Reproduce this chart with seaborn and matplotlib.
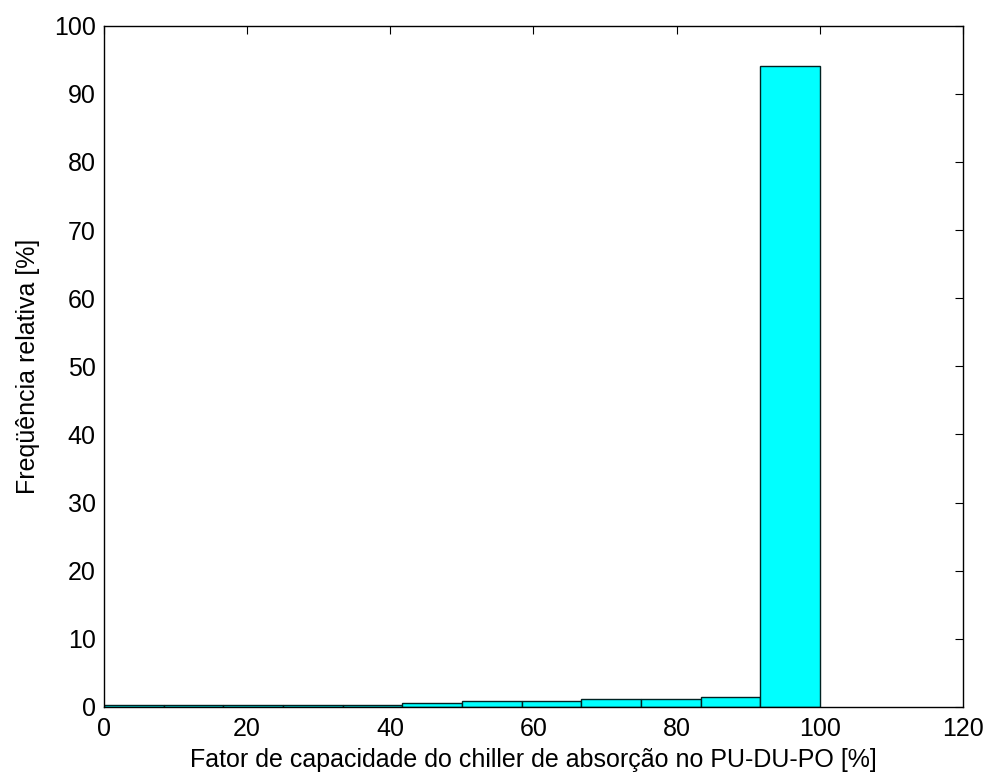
import matplotlib
matplotlib.use('Agg')
import matplotlib.pyplot as plt
import numpy as np
import pandas as pd
import seaborn as sns

# bin edges (12 bins between 0 and 100) and relative frequency in each bin [%]
bin_edges = list(np.linspace(0, 100, 13))
freq = [0.3, 0.3, 0.3, 0.3, 0.3, 0.6, 0.85, 0.85, 1.1, 1.1, 1.4, 94.1]
x_ticks = [0, 20, 40, 60, 80, 100, 120]
y_ticks = [0, 10, 20, 30, 40, 50, 60, 70, 80, 90, 100]

sns.set_style('white')
plt.rcParams['font.family'] = ['Liberation Sans', 'DejaVu Sans']
plt.rcParams['font.size'] = 18

fig = plt.figure(figsize=(9.97, 7.8), dpi=100)
ax = fig.add_axes([0.1043, 0.0936, 0.8616, 0.8734])

centers = [(a + b) / 2 for a, b in zip(bin_edges[:-1], bin_edges[1:])]
df = pd.DataFrame({'centro': centers, 'freq': freq})
sns.histplot(data=df, x='centro', weights='freq', bins=bin_edges, stat='count',
             color='#00ffff', alpha=1, edgecolor='#002222', linewidth=1, ax=ax)

ax.set_xlim(0, 120)
ax.set_ylim(0, 100)
ax.set_xticks(x_ticks)
ax.set_yticks(y_ticks)
ax.tick_params(direction='in', length=6, width=0.8, top=True, right=True,
               labelsize=18, colors='black')
ax.tick_params(axis='x', pad=7)
ax.tick_params(axis='y', pad=6)
for s in ax.spines.values():
    s.set_visible(True)
    s.set_color('black')
    s.set_linewidth(1)
ax.set_xlabel('Fator de capacidade do chiller de absorção no PU-DU-PO [%]', fontsize=18, color='black')
ax.set_ylabel('Freqüência relativa [%]', fontsize=18, color='black')
ax.xaxis.set_label_coords(0.5, -0.060)
ax.yaxis.set_label_coords(-0.074, 0.5)

fig.savefig('out.png', dpi=100)
